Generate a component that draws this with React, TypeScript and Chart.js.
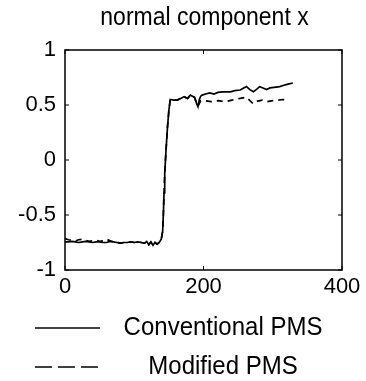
import { useEffect, useRef } from "react";
import { Chart, registerables } from "chart.js";

Chart.register(...registerables);

const chartTitle = "normal component x";
const seriesNames = ["Conventional PMS", "Modified PMS"];
const xTicks = [0, 200, 400];
const yTicks = [-1, -0.5, 0, 0.5, 1];

const convX = [0, 5, 10, 15, 20, 25, 30, 35, 40, 45, 50, 55, 60, 65, 70, 75, 80, 85, 90, 95, 100, 105, 110, 115, 118, 121, 124, 127, 130, 133, 136, 139, 141, 142, 143, 144, 146, 148, 150, 152, 157, 162, 167, 172, 177, 181, 184, 187, 190, 192, 194, 196, 198, 203, 209, 215, 221, 227, 233, 239, 245, 253, 258, 262, 267, 272, 277, 281, 286, 291, 296, 302, 310, 316, 322, 329];
const convY = [-0.745, -0.745, -0.74, -0.745, -0.75, -0.745, -0.74, -0.745, -0.75, -0.745, -0.745, -0.75, -0.75, -0.74, -0.745, -0.75, -0.755, -0.75, -0.75, -0.745, -0.75, -0.745, -0.75, -0.755, -0.74, -0.77, -0.745, -0.775, -0.75, -0.765, -0.75, -0.72, -0.65, -0.5, -0.3, -0.12, 0.1, 0.3, 0.45, 0.55, 0.545, 0.545, 0.56, 0.575, 0.56, 0.59, 0.58, 0.57, 0.515, 0.485, 0.55, 0.58, 0.59, 0.6, 0.61, 0.6, 0.615, 0.62, 0.62, 0.62, 0.63, 0.636, 0.655, 0.667, 0.64, 0.62, 0.645, 0.667, 0.655, 0.64, 0.655, 0.66, 0.667, 0.68, 0.69, 0.70];

const modX = [0, 5, 10, 15, 20, 25, 30, 35, 40, 45, 50, 55, 60, 65, 70, 75, 80, 85, 90, 95, 100, 105, 110, 115, 118, 121, 124, 127, 130, 133, 136, 139, 141, 142, 143, 144, 146, 148, 150, 152, 157, 162, 167, 172, 177, 181, 184, 187, 190, 192, 196, 201, 211, 221, 231, 241, 253, 262, 267, 272, 278, 285, 292, 300, 308, 315, 320];
const modY = [-0.715, -0.725, -0.73, -0.735, -0.725, -0.72, -0.73, -0.74, -0.735, -0.73, -0.74, -0.735, -0.72, -0.735, -0.745, -0.75, -0.755, -0.75, -0.75, -0.745, -0.75, -0.745, -0.75, -0.755, -0.74, -0.77, -0.745, -0.775, -0.75, -0.765, -0.75, -0.72, -0.65, -0.5, -0.3, -0.12, 0.1, 0.3, 0.45, 0.55, 0.545, 0.545, 0.56, 0.575, 0.56, 0.59, 0.58, 0.57, 0.515, 0.49, 0.54, 0.54, 0.53, 0.54, 0.53, 0.545, 0.56, 0.57, 0.54, 0.51, 0.535, 0.545, 0.53, 0.54, 0.545, 0.55, 0.54];

const FONT = "Arial, 'Liberation Sans', Helvetica, sans-serif";

const framePlugin = {
  id: "frame",
  afterDraw(chart: any) {
    const { ctx, chartArea: a, scales } = chart;
    ctx.save();
    ctx.strokeStyle = "#000";
    ctx.lineWidth = 1.5;
    ctx.setLineDash([]);
    ctx.strokeRect(a.left, a.top, a.right - a.left, a.bottom - a.top);
    ctx.lineWidth = 1;
    ctx.beginPath();
    for (const v of xTicks) {
      const px = scales.x.getPixelForValue(v);
      ctx.moveTo(px, a.bottom);
      ctx.lineTo(px, a.bottom - 4);
      ctx.moveTo(px, a.top);
      ctx.lineTo(px, a.top + 4);
    }
    for (const v of yTicks) {
      const py = scales.y.getPixelForValue(v);
      ctx.moveTo(a.left, py);
      ctx.lineTo(a.left + 4, py);
      ctx.moveTo(a.right, py);
      ctx.lineTo(a.right - 4, py);
    }
    ctx.stroke();

    ctx.fillStyle = "#000";
    ctx.textAlign = "center";
    ctx.textBaseline = "middle";
    const cx = (a.left + a.right) / 2;
    // title
    ctx.save();
    ctx.translate(cx + 1, 18);
    ctx.scale(1, 1.15);
    ctx.font = `23px ${FONT}`;
    ctx.fillText(chartTitle, 0, 0);
    ctx.restore();

    // legend
    const rows = [
      { y: 328, dash: [] as number[], name: seriesNames[0] },
      { y: 367, dash: [17, 6], name: seriesNames[1] },
    ];
    for (const r of rows) {
      ctx.save();
      ctx.lineWidth = 1.5;
      ctx.setLineDash(r.dash);
      ctx.beginPath();
      ctx.moveTo(35, r.y);
      ctx.lineTo(100, r.y);
      ctx.stroke();
      ctx.restore();
      ctx.save();
      ctx.translate(223, r.y);
      ctx.scale(1, 1.1);
      ctx.font = `24px ${FONT}`;
      ctx.fillText(r.name, 0, 0);
      ctx.restore();
    }
    ctx.restore();
  },
};

export default function App() {
  const ref = useRef<HTMLCanvasElement>(null);
  useEffect(() => {
    if (!ref.current) return;
    const chart = new Chart(ref.current, {
      type: "line",
      data: {
        datasets: [
          {
            label: seriesNames[1],
            data: modX.map((x, i) => ({ x, y: modY[i] })),
            borderColor: "#000",
            borderWidth: 1.7,
            borderDash: [6, 5],
            pointRadius: 0,
            tension: 0,
            fill: false,
          },
          {
            label: seriesNames[0],
            data: convX.map((x, i) => ({ x, y: convY[i] })),
            borderColor: "#000",
            borderWidth: 1.7,
            pointRadius: 0,
            tension: 0,
            fill: false,
          },
        ],
      },
      options: {
        responsive: false,
        animation: false,
        devicePixelRatio: 1,
        layout: { padding: { top: 50, right: 24, left: 0, bottom: 0 } },
        plugins: {
          legend: { display: false },
          title: { display: false },
          tooltip: { enabled: false },
        },
        scales: {
          x: {
            type: "linear",
            min: 0,
            max: 400,
            grid: { display: false, drawTicks: false },
            border: { display: false },
            afterBuildTicks: (s: any) => {
              s.ticks = xTicks.map((v) => ({ value: v }));
            },
            afterFit: (s: any) => {
              s.height = 111;
            },
            ticks: {
              color: "#000",
              padding: 4,
              maxRotation: 0,
              autoSkip: false,
              font: { family: FONT, size: 22 },
              callback: (v: any) => String(v),
            },
          },
          y: {
            type: "linear",
            min: -1,
            max: 1,
            grid: { display: false, drawTicks: false },
            border: { display: false },
            afterBuildTicks: (s: any) => {
              s.ticks = yTicks.map((v) => ({ value: v }));
            },
            afterFit: (s: any) => {
              s.width = 65;
            },
            ticks: {
              color: "#000",
              padding: 9,
              autoSkip: false,
              font: { family: FONT, size: 22 },
              callback: (v: any) => String(v),
            },
          },
        },
      },
      plugins: [framePlugin],
    });
    return () => chart.destroy();
  }, []);
  return (
    <div style={{ position: "absolute", left: 0, top: 0, width: 366, height: 381, background: "#fff" }}>
      <canvas ref={ref} width={366} height={381} />
    </div>
  );
}
